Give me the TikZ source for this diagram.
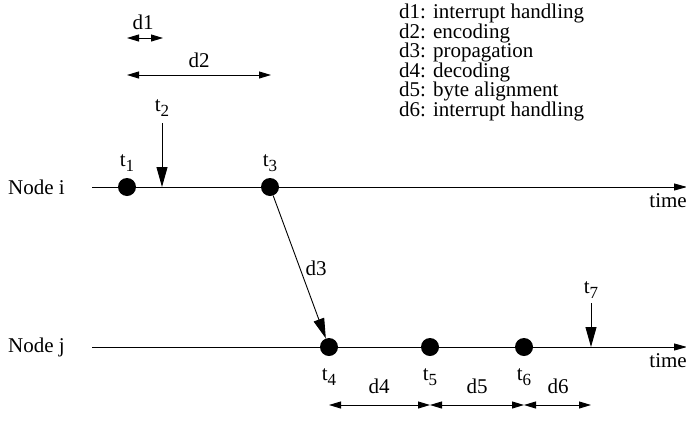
\documentclass[tikz,border=0pt]{standalone}
\usepackage{fontspec}
\setmainfont{Liberation Serif}
\usetikzlibrary{arrows.meta}
\newcommand{\tsub}[1]{t\raisebox{-0.55ex}{\fontsize{17}{17}\selectfont #1}}
\begin{document}
\begin{tikzpicture}[x=1pt,y=-1pt,
  font=\fontsize{21}{19.5}\selectfont,
  every node/.style={inner sep=0pt},
  dot/.style={circle,fill=black,minimum size=18pt,inner sep=0pt},
  axis/.style={line width=0.9pt,-{Triangle[length=13pt,width=7pt]}},
  tarrow/.style={line width=0.9pt,-{Triangle[length=20pt,width=11pt]}},
  dimarrow/.style={line width=0.9pt,{Triangle[length=12pt,width=7pt]}-{Triangle[length=12pt,width=7pt]}},
  lbl/.style={anchor=base}]
\useasboundingbox (0,0) rectangle (686,437);
% axes
\coordinate (ia) at (92,187);
\coordinate (ib) at (687,187);
\coordinate (ja) at (92,347);
\coordinate (jb) at (687,347);
\draw[axis] (ia) -- (ib);
\draw[axis] (ja) -- (jb);
\node[anchor=west] (ni) at (8,187) {Node i};
\node[anchor=west] (nj) at (8,347) {Node j};
\node[anchor=base east] (timei) at (687,207) {time};
\node[anchor=base east] (timej) at (687,367) {time};
% dots
\node[dot] (t1) at (127,187) {};
\node[dot] (t3) at (270,187) {};
\node[dot] (t4) at (329,347) {};
\node[dot] (t5) at (430,347) {};
\node[dot] (t6) at (524,347) {};
% labels of dots
\node[lbl] (l1) at (127,166) {\tsub{1}};
\node[lbl] (l3) at (270,166) {\tsub{3}};
\node[lbl] (l4) at (329,380) {\tsub{4}};
\node[lbl] (l5) at (430,380) {\tsub{5}};
\node[lbl] (l6) at (524,380) {\tsub{6}};
% t2 and t7 arrows
\coordinate (t2top) at (162,123);
\coordinate (t2) at (162,187);
\draw[tarrow] (t2top) -- (t2);
\node[lbl] (l2) at (162,111) {\tsub{2}};
\coordinate (t7top) at (591,303);
\coordinate (t7) at (591,347);
\draw[tarrow] (t7top) -- (t7);
\node[lbl] (l7) at (591,293) {\tsub{7}};
% propagation
\draw[tarrow] (t3) -- (t4);
\node[lbl] (d3) at (316,275) {d3};
% dimension arrows top
\coordinate (a1) at (127,38);
\coordinate (b1) at (163,38);
\draw[dimarrow] (a1) -- (b1);
\node[lbl] (d1) at (143,29) {d1};
\coordinate (a2) at (127,75);
\coordinate (b2) at (271,75);
\draw[dimarrow] (a2) -- (b2);
\node[lbl] (d2) at (199,67) {d2};
% dimension arrows bottom
\coordinate (a4) at (329,405);
\coordinate (b4) at (430,405);
\coordinate (b5) at (524,405);
\coordinate (b6) at (591,405);
\draw[dimarrow] (a4) -- (b4);
\draw[dimarrow] (b4) -- (b5);
\draw[dimarrow] (b5) -- (b6);
\node[lbl] (d4) at (379,393) {d4};
\node[lbl] (d5) at (477,393) {d5};
\node[lbl] (d6) at (558,393) {d6};
% legend
\node[anchor=north west,align=left] (legend) at (399,4) {d1: interrupt handling\\d2: encoding\\d3: propagation\\d4: decoding\\d5: byte alignment\\d6: interrupt handling};
\end{tikzpicture}
\end{document}
